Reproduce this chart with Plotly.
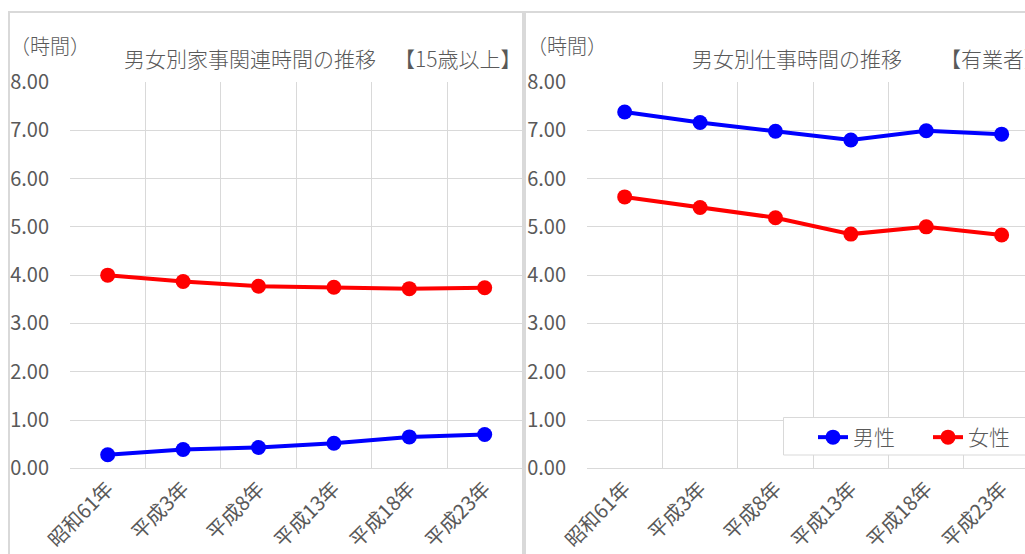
import plotly.graph_objects as go

# 年次（社会生活基本調査）
years = ["昭和61年", "平成3年", "平成8年", "平成13年", "平成18年", "平成23年"]

# 家事関連時間（15歳以上、時間）
housework_male = [0.28, 0.39, 0.43, 0.52, 0.65, 0.70]
housework_female = [4.00, 3.87, 3.77, 3.75, 3.72, 3.74]

# 仕事時間（有業者、時間）
work_male = [7.38, 7.16, 6.98, 6.80, 6.99, 6.92]
work_female = [5.62, 5.40, 5.19, 4.85, 5.00, 4.83]

W, H = 1025, 554
FONT = "Noto Sans CJK JP"
TXT = "#595959"
GRID = "#d9d9d9"
BLUE = "#0000ff"
RED = "#ff0000"


def px_x(p):
    return p / W


def px_y(p):
    return 1 - p / H


fig = go.Figure()

series = [
    ("x", "y", housework_male, housework_female, False),
    ("x2", "y2", work_male, work_female, True),
]
for xa, ya, male, female, show in series:
    fig.add_trace(go.Scatter(
        x=years, y=male, name="男性", xaxis=xa, yaxis=ya,
        mode="lines+markers", legendgroup="m", showlegend=show,
        line=dict(color=BLUE, width=4), marker=dict(color=BLUE, size=15),
    ))
    fig.add_trace(go.Scatter(
        x=years, y=female, name="女性", xaxis=xa, yaxis=ya,
        mode="lines+markers", legendgroup="f", showlegend=show,
        line=dict(color=RED, width=4), marker=dict(color=RED, size=15),
    ))

xcommon = dict(
    type="category", tickson="boundaries", showgrid=True, gridcolor=GRID,
    gridwidth=1, showline=True, linecolor=GRID, linewidth=1, ticks="",
    tickangle=-45, tickfont=dict(family=FONT, size=20, color=TXT),
    automargin=False, fixedrange=True,
)
ycommon = dict(
    range=[0, 8], dtick=1, tickformat=".2f", showgrid=True, gridcolor=GRID,
    gridwidth=1, zeroline=False, showline=False, ticks="",
    tickfont=dict(family=FONT, size=20, color=TXT), ticklabelstandoff=20,
    automargin=False, fixedrange=True,
)
ydom = [px_y(468.3), px_y(82)]

fig.update_layout(
    width=W, height=H,
    margin=dict(l=0, r=0, t=0, b=0, autoexpand=False),
    paper_bgcolor="white", plot_bgcolor="white",
    xaxis=dict(domain=[px_x(70), px_x(522.4)], range=[-0.5, 5.5], anchor="y", **xcommon),
    yaxis=dict(domain=ydom, anchor="x", **ycommon),
    xaxis2=dict(domain=[px_x(587), 1], range=[-0.5, 5.31], anchor="y2", **xcommon),
    yaxis2=dict(domain=ydom, anchor="x2", **ycommon),
    legend=dict(
        orientation="h", x=px_x(813), y=px_y(417), xanchor="left", yanchor="top",
        bgcolor="rgba(0,0,0,0)", borderwidth=0, entrywidth=70,
        font=dict(family=FONT, size=21, color=TXT, weight=300),
    ),
    showlegend=True,
)

# パネルの枠線と凡例の枠
shapes = [
    dict(type="line", xref="paper", yref="paper", x0=px_x(8), x1=1, y0=px_y(12), y1=px_y(12),
         line=dict(color=GRID, width=2)),
    dict(type="line", xref="paper", yref="paper", x0=px_x(9), x1=px_x(9), y0=px_y(12), y1=0,
         line=dict(color=GRID, width=2)),
    dict(type="line", xref="paper", yref="paper", x0=px_x(524), x1=px_x(524), y0=px_y(12), y1=0,
         line=dict(color=GRID, width=4)),
    dict(type="rect", xref="paper", yref="paper", layer="above",
         x0=px_x(783.5), x1=px_x(1030), y0=px_y(455), y1=px_y(417.5),
         fillcolor="white", line=dict(color=GRID, width=1)),
]
fig.update_layout(shapes=shapes)

# タイトルと単位
ann = [
    ("（時間）", 8, 46, 20),
    ("男女別家事関連時間の推移", 122, 58, 21),
    ("【15歳以上】", 392, 58, 21),
    ("（時間）", 525, 46, 20),
    ("男女別仕事時間の推移", 690, 58, 21),
    ("【有業者】", 938, 58, 21),
]
for text, x, y, size in ann:
    fig.add_annotation(
        text=text, xref="paper", yref="paper", x=px_x(x), y=px_y(y),
        xanchor="left", yanchor="middle", showarrow=False,
        font=dict(family=FONT, size=size, color=TXT, weight=300),
    )

fig.write_html("out.html")
